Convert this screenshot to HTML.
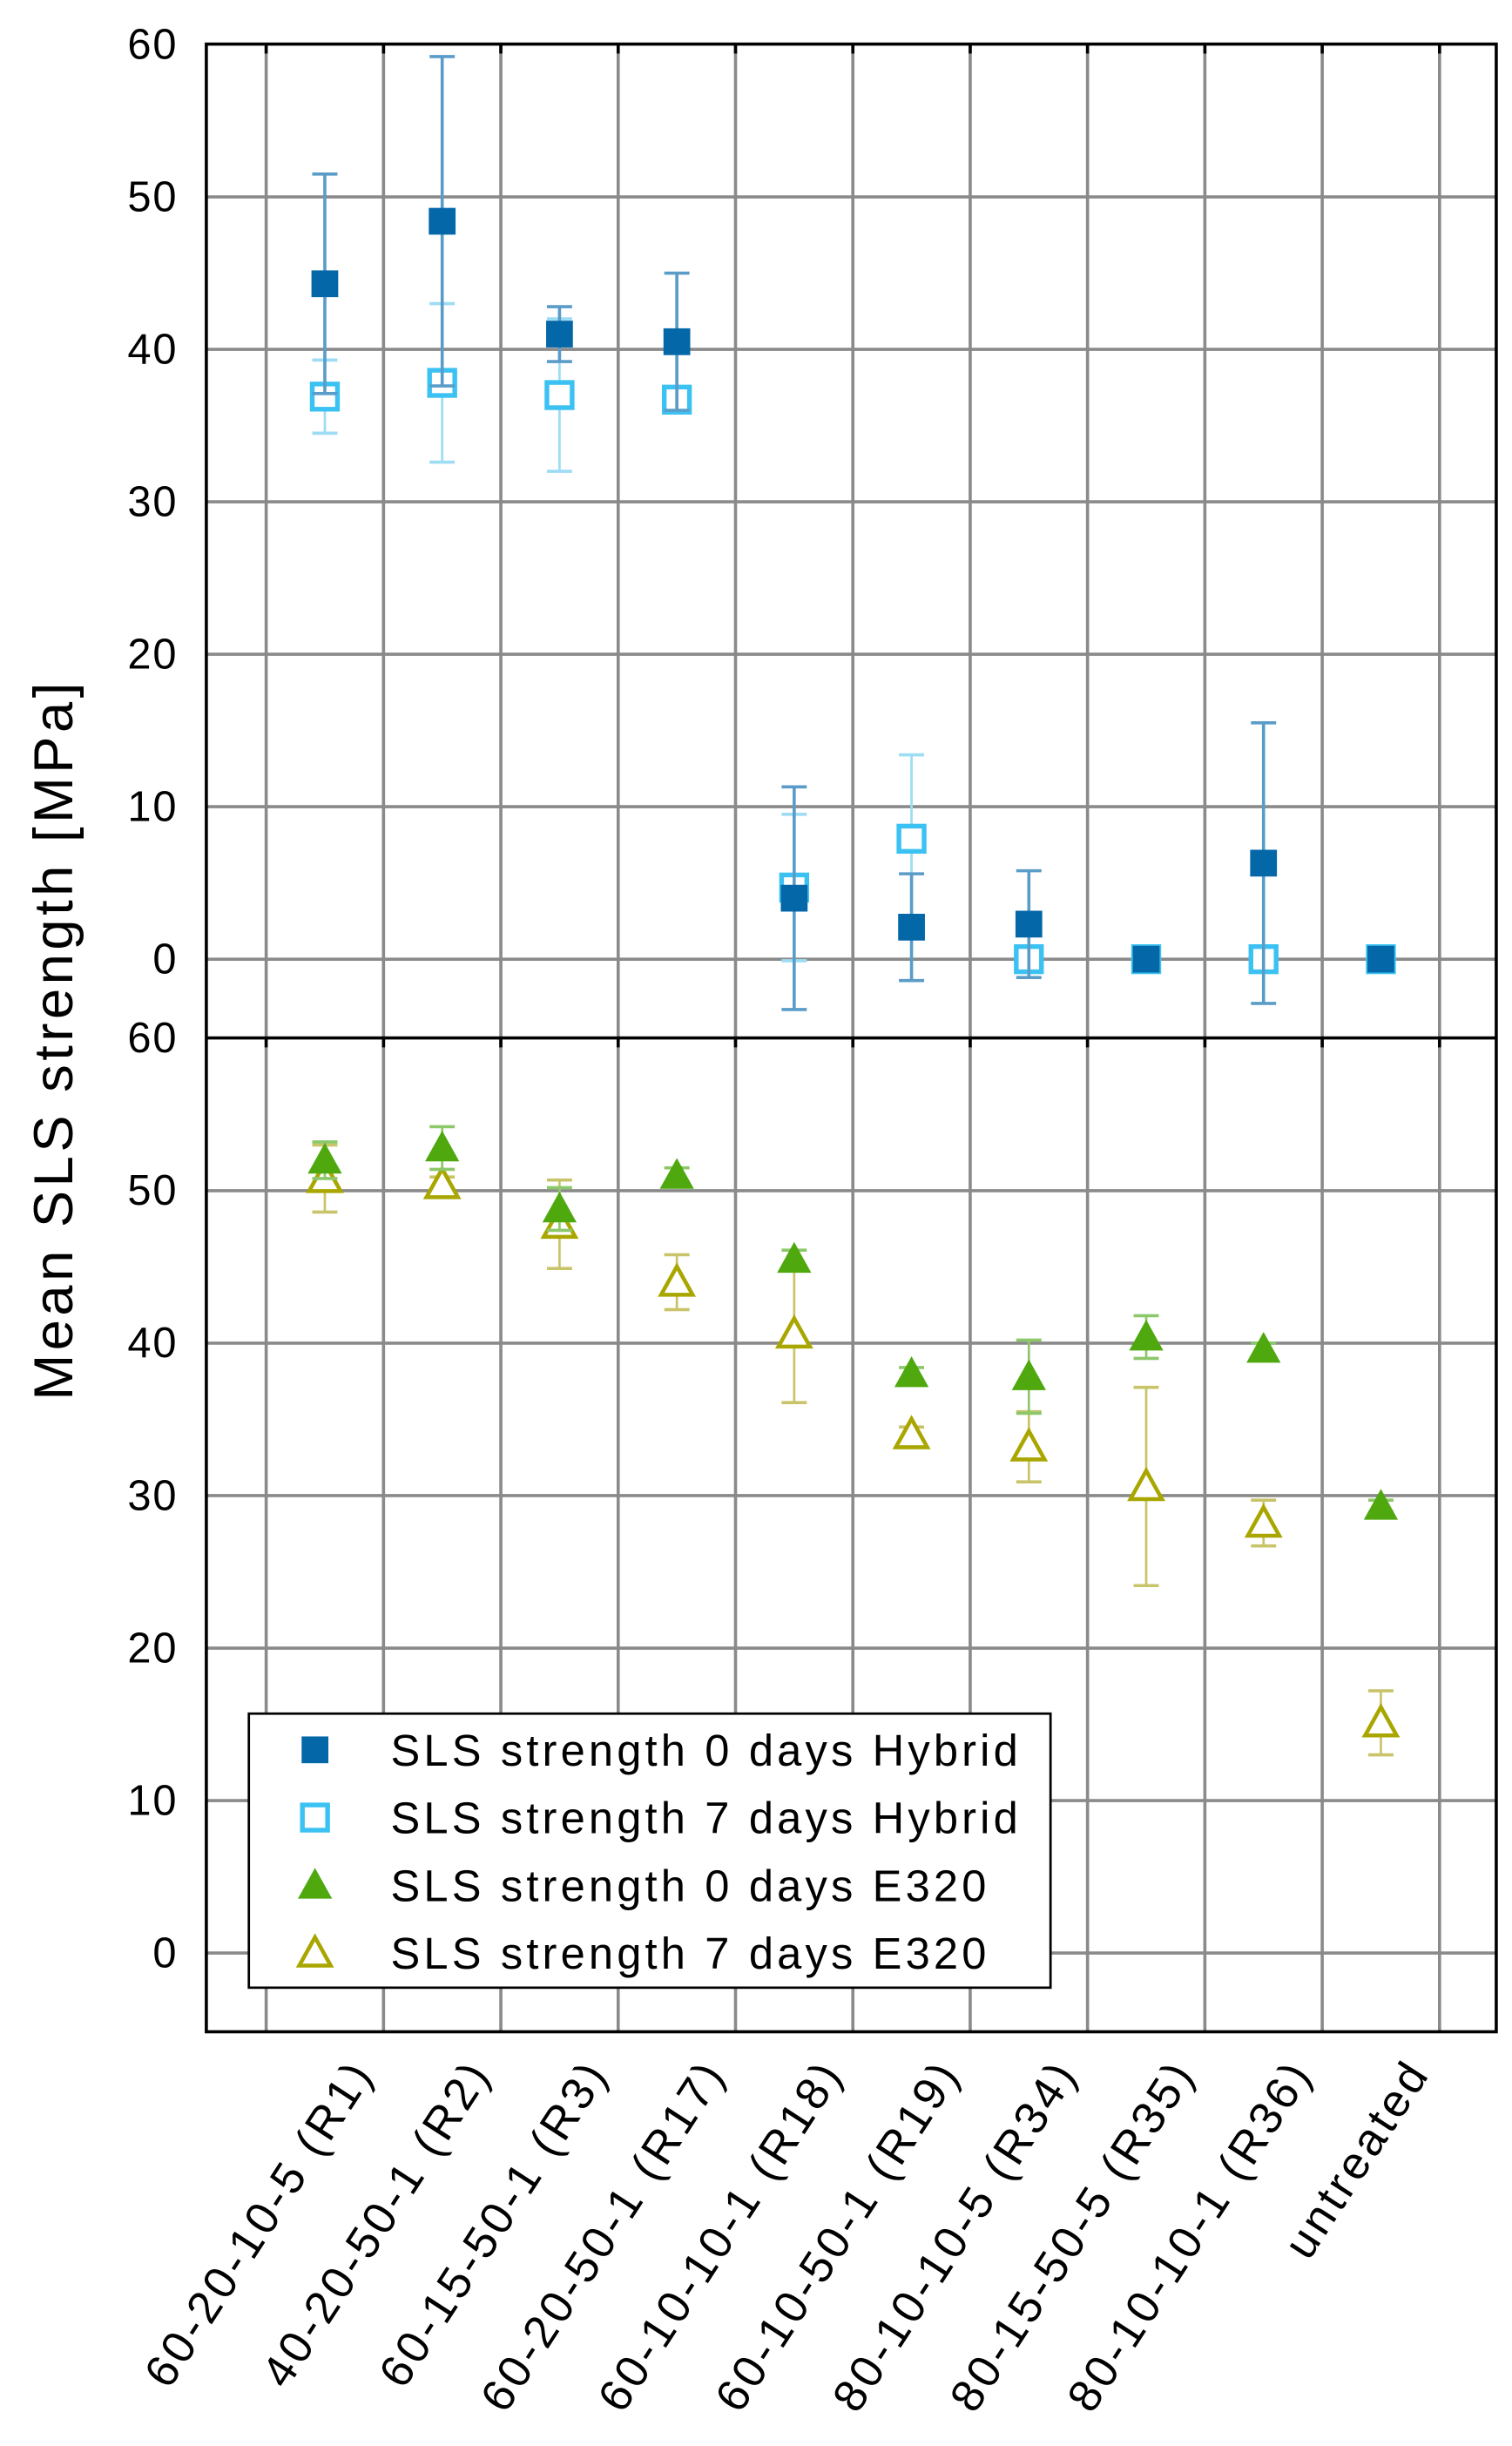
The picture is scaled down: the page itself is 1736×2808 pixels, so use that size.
<!DOCTYPE html>
<html><head><meta charset="utf-8"><style>
html,body{margin:0;padding:0;background:#fff;}
svg{display:block;font-family:"Liberation Sans",Arial,sans-serif;}
</style></head><body>
<svg id="chart" width="1736" height="2808" viewBox="0 0 960 1553" preserveAspectRatio="none" xmlns="http://www.w3.org/2000/svg">
<rect x="0" y="0" width="960" height="1553" fill="#fff"/>
<text x="0" y="0" transform="translate(46,660) rotate(-90)" text-anchor="middle" font-size="35" letter-spacing="2.5" fill="#000">Mean SLS strength [MPa]</text>
</svg>
<script>
const categories = ["60-20-10-5 (R1)","40-20-50-1 (R2)","60-15-50-1 (R3)","60-20-50-1 (R17)","60-10-10-1 (R18)","60-10-50-1 (R19)","80-10-10-5 (R34)","80-15-50-5 (R35)","80-10-10-1 (R36)","untreated"];
const hybrid0 = [44.3,48.4,41.0,40.5,4.0,2.1,2.3,0,6.3,0];
const hybrid0Err = [7.2,10.8,1.8,4.5,7.3,3.5,3.5,0,9.2,0];
const hybrid7 = [36.9,37.8,37.0,36.7,4.7,7.9,0,0,0,0];
const hybrid7Err = [2.4,5.2,5.0,0.4,4.8,5.5,0,0,0,0];
const e320_0 = [52.0,52.8,48.8,51.0,45.5,38.0,37.8,40.4,39.6,29.3];
const e320_0Err = [1.2,1.4,1.4,0.5,0.6,0.4,2.4,1.4,0.4,0.4];
const e320_7 = [50.8,50.4,47.8,44.0,40.6,34.0,33.2,30.6,28.2,15.1];
const e320_7Err = [2.2,0.5,2.9,1.8,4.5,0.5,2.3,6.5,1.5,2.1];
const yTicksTop = [0,10,20,30,40,50,60];
const yTicksBottom = [0,10,20,30,40,50,60];
const legendLabels = ["SLS strength 0 days Hybrid","SLS strength 7 days Hybrid","SLS strength 0 days E320","SLS strength 7 days E320"];

const NS="http://www.w3.org/2000/svg";
const svg=document.getElementById('chart');
const L=131,R=950,T=28,MID=659,B=1290;
const pxPer=9.68;
function yTop(v){return 609 - v*pxPer;}
function yBot(v){return 1240 - v*pxPer;}
const step=(914-169)/10;
function xC(i){return 169+step*(i+0.5);}
function mk(tag,attrs,parent){const e=document.createElementNS(NS,tag);for(const k in attrs)e.setAttribute(k,attrs[k]);(parent||svg).appendChild(e);return e;}

const grid=mk('g',{});


for(let k=0;k<=10;k++){const x=169+step*k;mk('line',{x1:x,y1:T,x2:x,y2:B,stroke:'#8a8a8a','stroke-width':2},grid);}
yTicksTop.forEach(v=>{if(v<60){mk('line',{x1:L,x2:R,y1:yTop(v),y2:yTop(v),stroke:'#8a8a8a','stroke-width':2},grid);}});
yTicksBottom.forEach(v=>{if(v<60){mk('line',{x1:L,x2:R,y1:yBot(v),y2:yBot(v),stroke:'#8a8a8a','stroke-width':2},grid);}});
for(let k=0;k<=10;k++){const x=169+step*k;[T,MID].forEach(y=>mk('line',{x1:x,x2:x,y1:y,y2:y+6,stroke:'#000','stroke-width':2},grid));}
const frame=mk('g',{});


mk('rect',{x:L,y:T,width:R-L,height:B-T,fill:'none',stroke:'#000','stroke-width':2},frame);
mk('line',{x1:L,x2:R,y1:MID,y2:MID,stroke:'#000','stroke-width':2},frame);

yTicksTop.forEach(v=>{const t=mk('text',{x:113,y:yTop(v)+9,'text-anchor':'end','font-size':27,'letter-spacing':1,fill:'#000'});t.textContent=v;

});
yTicksBottom.forEach(v=>{const t=mk('text',{x:113,y:yBot(v)+9,'text-anchor':'end','font-size':27,'letter-spacing':1,fill:'#000'});t.textContent=v;

});

categories.forEach((c,i)=>{const x=xC(i)+32,y=1316;const t=mk('text',{x:0,y:0,transform:`translate(${x},${y}) rotate(-57)`,'text-anchor':'end','font-size':29,'letter-spacing':2.3,fill:'#000'});t.textContent=c;

});

function errbar(g,x,y1,y2,col,w){mk('line',{x1:x,x2:x,y1:y1,y2:y2,stroke:col,'stroke-width':w},g);mk('line',{x1:x-8,x2:x+8,y1:y1,y2:y1,stroke:col,'stroke-width':2},g);mk('line',{x1:x-8,x2:x+8,y1:y2,y2:y2,stroke:col,'stroke-width':2},g);}
function square(g,x,y,col,filled){mk('rect',{x:x-8,y:y-8,width:16,height:16,fill:filled?col:'#fff',stroke:col,'stroke-width':filled?1:3},g);}
function tri(g,x,y,col,filled){mk('polygon',{points:`${x},${y-10} ${x-10},${y+8} ${x+10},${y+8}`,fill:filled?col:'#fff',stroke:col,'stroke-width':filled?1:2.5},g);}

const C1='#0467a8',C2='#3cc2f2',C3='#4ea80e',C4='#a9a600';
const s7=mk('g',{});
const s0=mk('g',{});
const e7=mk('g',{});
const e0=mk('g',{});
categories.forEach((c,i)=>{const x=xC(i);
 if(hybrid7Err[i]>0)errbar(s7,x,yTop(hybrid7[i]+hybrid7Err[i]),yTop(hybrid7[i]-hybrid7Err[i]),'#9cdcf4',1.5);
 if(hybrid0Err[i]>0)errbar(s0,x,yTop(hybrid0[i]+hybrid0Err[i]),yTop(hybrid0[i]-hybrid0Err[i]),'#5a9cc8',2);
 square(s7,x,yTop(hybrid7[i]),C2,false);
 square(s0,x,yTop(hybrid0[i]),C1,true);
 errbar(e7,x,yBot(e320_7[i]+e320_7Err[i]),yBot(e320_7[i]-e320_7Err[i]),'#c9c46a',1.5);
 errbar(e0,x,yBot(e320_0[i]+e320_0Err[i]),yBot(e320_0[i]-e320_0Err[i]),'#8cc86a',1.5);
 tri(e0,x,yBot(e320_0[i]),C3,true);
 tri(e7,x,yBot(e320_7[i]),C4,false);
});

const lg=mk('g',{});
mk('rect',{x:158,y:1088,width:509,height:174,fill:'#fff',stroke:'#000','stroke-width':1.5},lg);
legendLabels.forEach((lab,i)=>{const y=1111+i*43;const ge=mk('g',{},lg);
 
 
 if(i===0)square(ge,200,y,C1,true);if(i===1)square(ge,200,y,C2,false);
 if(i===2)tri(ge,200,y,C3,true);if(i===3)tri(ge,200,y,C4,false);
 const t=mk('text',{x:248,y:y+10,'font-size':28,'letter-spacing':2.3,fill:'#000'},ge);t.textContent=lab;});
</script>
</body></html>
